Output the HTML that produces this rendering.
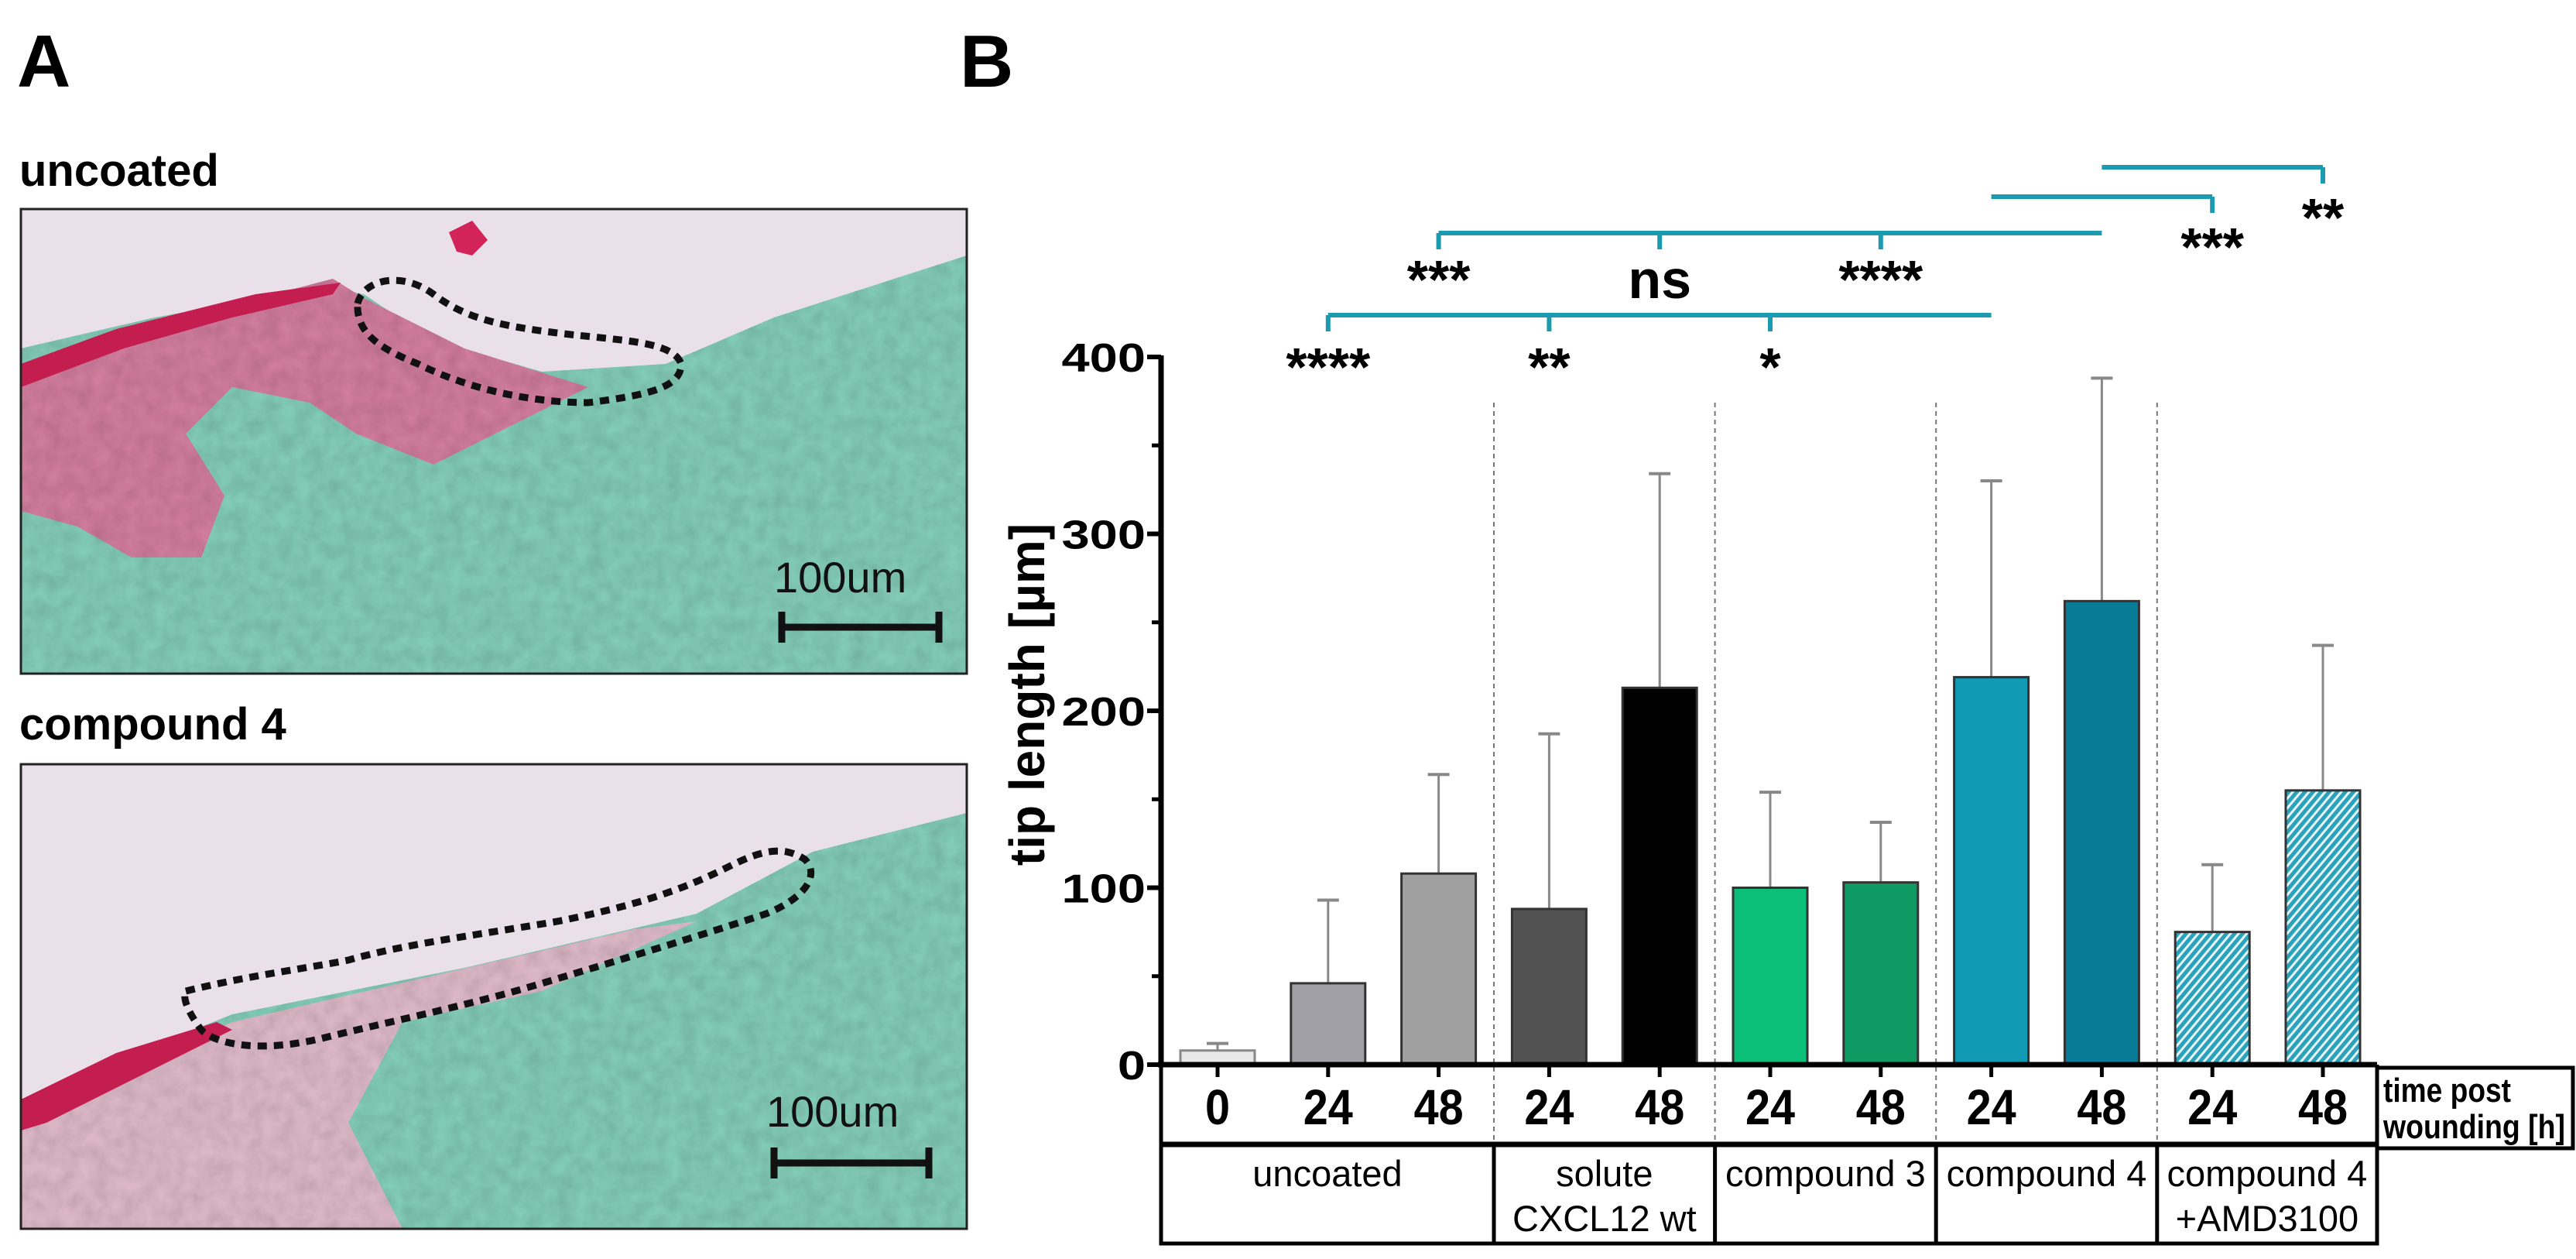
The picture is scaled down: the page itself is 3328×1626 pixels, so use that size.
<!DOCTYPE html>
<html><head><meta charset="utf-8"><style>
html,body{margin:0;padding:0;background:#fff;}
body{width:3328px;height:1626px;overflow:hidden;position:relative;font-family:"Liberation Sans",sans-serif;}
svg{position:absolute;left:0;top:0;}
</style></head><body>
<svg id="fig" width="3328" height="1626" viewBox="0 0 3328 1626" xmlns="http://www.w3.org/2000/svg">
<defs>
<pattern id="hatch" patternUnits="userSpaceOnUse" width="8" height="8" patternTransform="rotate(40)">
<rect width="8" height="8" fill="#e8f6f9"/><rect width="5" height="8" fill="#2ba2bb"/>
</pattern>
<filter id="tex" x="0" y="0" width="100%" height="100%">
<feTurbulence type="fractalNoise" baseFrequency="0.05" numOctaves="3" seed="4"/>
<feColorMatrix type="matrix" values="0 0 0 0 0  0 0 0 0 0  0 0 0 0 0  0 0 0 0.35 -0.08"/>
<feComposite in2="SourceGraphic" operator="in"/>
<feBlend in="SourceGraphic" mode="multiply"/>
</filter>
<clipPath id="c1"><rect x="27" y="270" width="1222" height="600"/></clipPath>
<clipPath id="c2"><rect x="27" y="987" width="1222" height="600"/></clipPath>
</defs>

<!-- Panel A -->
<text x="22" y="112" font-size="96" font-weight="bold" fill="#000">A</text>
<text x="25" y="240" font-size="58" font-weight="bold" fill="#000">uncoated</text>
<g clip-path="url(#c1)">
<rect x="27" y="270" width="1222" height="600" fill="#e9e0ea"/>
<polygon points="27,450 200,410 420,370 470,380 560,440 700,480 860,470 1000,410 1249,330 1249,870 27,870" fill="#82cbb6" filter="url(#tex)"/>
<polygon points="27,490 200,420 430,360 470,385 600,450 760,500 640,560 560,600 460,560 400,520 300,500 240,560 290,640 260,720 170,720 100,680 27,660" fill="#d07c9c" filter="url(#tex)"/>
<polygon points="27,470 150,425 330,380 440,365 430,380 300,410 160,450 27,500" fill="#c41d4f"/>
<polygon points="580,300 610,285 630,310 610,330 590,325" fill="#d3245a"/>
<path d="M462 392 C470 360 520 350 560 380 C600 410 640 420 720 430 C800 440 870 440 880 470 C880 500 840 510 760 520 C680 520 600 500 540 470 C490 450 460 430 462 392 Z" fill="none" stroke="#111" stroke-width="9" stroke-dasharray="12 9"/>
<text x="1000" y="765" font-size="56" fill="#111">100um</text>
<path d="M1010 810 H1213 M1010 790 V830 M1213 790 V830" stroke="#111" stroke-width="9" fill="none"/>
</g>
<rect x="27" y="270" width="1222" height="600" fill="none" stroke="#222" stroke-width="3"/>

<text x="25" y="955" font-size="58" font-weight="bold" fill="#000">compound 4</text>
<g clip-path="url(#c2)">
<rect x="27" y="987" width="1222" height="600" fill="#e9e0ea"/>
<polygon points="27,1420 300,1310 600,1250 900,1180 1050,1100 1249,1050 1249,1587 27,1587" fill="#82cbb6" filter="url(#tex)"/>
<polygon points="27,1430 300,1320 560,1260 820,1200 900,1190 700,1280 520,1320 450,1450 520,1587 27,1587" fill="#dcb8c6" filter="url(#tex)"/>
<polygon points="27,1420 150,1360 280,1320 300,1330 200,1380 60,1450 27,1460" fill="#c41d4f"/>
<path d="M240 1280 C320 1260 400 1250 450 1240 C520 1220 600 1210 720 1190 C820 1170 880 1150 940 1120 C980 1100 1010 1090 1040 1110 C1060 1130 1040 1160 990 1180 C900 1210 800 1240 700 1270 C600 1300 500 1320 420 1340 C340 1360 280 1350 260 1330 C245 1310 235 1290 240 1280 Z" fill="none" stroke="#111" stroke-width="9" stroke-dasharray="12 9"/>
<text x="990" y="1455" font-size="56" fill="#111">100um</text>
<path d="M1000 1502 H1200 M1000 1482 V1522 M1200 1482 V1522" stroke="#111" stroke-width="9" fill="none"/>
</g>
<rect x="27" y="987" width="1222" height="600" fill="none" stroke="#222" stroke-width="3"/>

<!-- Panel B -->
<text x="1240" y="112" font-size="96" font-weight="bold" fill="#000">B</text>
<g id="chart"></g>
</svg>
<script>
const categories = ["0","24","48","24","48","24","48","24","48","24","48"];
const means = [8, 46, 108, 88, 213, 100, 103, 219, 262, 75, 155];
const errTops = [12, 93, 164, 187, 334, 154, 137, 330, 388, 113, 237];
const fills = ["#e8e8e8","#a0a0a6","#a0a0a0","#525252","#000000","#0bbf78","#0f9a64","#119ab3","#087b96","url(#hatch)","url(#hatch)"];
const yTicks = [0, 100, 200, 300, 400];
const yMinorTicks = [50, 150, 250, 350];
const groupLabels = [["uncoated"],["solute","CXCL12 wt"],["compound 3"],["compound 4"],["compound 4","+AMD3100"]];
const groupSizes = [3, 2, 2, 2, 2];
const sigLabels = ["****","**","*","***","ns","****","***","**"];

const NS = "http://www.w3.org/2000/svg";
const chart = document.getElementById("chart");
const X0 = 1500, Y0 = 1375, Y400 = 461, STEP = 142.8, FIRST = 1573, BW = 96;
const yS = v => Y0 - (v / 400) * (Y0 - Y400);
const xS = i => FIRST + i * STEP;
function mk(tag, attrs, parent) {
  const e = document.createElementNS(NS, tag);
  for (const k in attrs) e.setAttribute(k, attrs[k]);
  (parent || chart).appendChild(e);
  return e;
}
function txt(x, y, s, size, weight, anchor, extra) {
  const t = mk("text", Object.assign({x: x, y: y, "font-size": size, "font-weight": weight, "text-anchor": anchor, fill: "#000"}, extra || {}));
  t.textContent = s;
  return t;
}
let acc = 0;
const bounds = [X0];
groupSizes.forEach((n, gi) => {
  acc += n;
  const bx = gi === groupSizes.length - 1 ? 3071 : (xS(acc - 1) + xS(acc)) / 2;
  bounds.push(bx);
  if (gi < groupSizes.length - 1) {
    const l = mk("line", {x1: bx, x2: bx, y1: 520, y2: 1478, stroke: "#777", "stroke-width": 2, "stroke-dasharray": "6 5"});
    
    
  }
});
means.forEach((v, i) => {
  const cx = xS(i);
  const e = mk("line", {x1: cx, x2: cx, y1: yS(errTops[i]), y2: yS(v), stroke: "#888", "stroke-width": 3});
  
  
  const c = mk("line", {x1: cx - 14, x2: cx + 14, y1: yS(errTops[i]), y2: yS(errTops[i]), stroke: "#888", "stroke-width": 4});
  
  
  const r = mk("rect", {x: cx - BW / 2, y: yS(v), width: BW, height: Y0 - yS(v), fill: fills[i], stroke: i === 0 ? "#888" : "#333", "stroke-width": 3});
  
  
});
const ax = mk("line", {x1: X0, x2: X0, y1: Y400 - 2, y2: Y0 + 2, stroke: "#000", "stroke-width": 7});


yTicks.forEach(v => {
  mk("line", {x1: X0 - 18, x2: X0, y1: yS(v), y2: yS(v), stroke: "#000", "stroke-width": 6});
  const t = txt(0, 0, String(v), 52, "bold", "end", {transform: "translate(" + (X0 - 20) + "," + (yS(v) + 19) + ") scale(1.25,1)"});
  
  
});
yMinorTicks.forEach(v => mk("line", {x1: X0 - 12, x2: X0, y1: yS(v), y2: yS(v), stroke: "#000", "stroke-width": 5}));
const yt = txt(0, 0, "tip length [µm]", 64, "bold", "middle", {transform: "translate(1349,897) rotate(-90)"});


const xa = mk("line", {x1: X0 - 4, x2: 3071, y1: Y0, y2: Y0, stroke: "#000", "stroke-width": 7});


mk("path", {d: "M" + X0 + " " + Y0 + " V1477 H3071 V" + Y0, fill: "none", stroke: "#000", "stroke-width": 5});
categories.forEach((c, i) => {
  mk("line", {x1: xS(i), x2: xS(i), y1: Y0, y2: Y0 + 16, stroke: "#000", "stroke-width": 5});
  const t = txt(0, 0, c, 64, "bold", "middle", {transform: "translate(" + xS(i) + ",1452) scale(0.9,1)"});
  
  
});
const tb = mk("rect", {x: 3071, y: 1379, width: 253, height: 104, fill: "#fff", stroke: "#000", "stroke-width": 5});


txt(3079, 1423, "time post", 44, "bold", "start", {"textLength": 165, "lengthAdjust": "spacingAndGlyphs"});
txt(3079, 1470, "wounding [h]", 44, "bold", "start", {"textLength": 235, "lengthAdjust": "spacingAndGlyphs"});
mk("rect", {x: X0, y: 1479, width: 3071 - X0, height: 127, fill: "none", stroke: "#000", "stroke-width": 5});
groupLabels.forEach((lines, gi) => {
  const a = bounds[gi], b = bounds[gi + 1];
  if (gi > 0) mk("line", {x1: a, x2: a, y1: 1479, y2: 1606, stroke: "#000", "stroke-width": 5});
  lines.forEach((s, li) => {
    const t = txt((a + b) / 2, 1532 + li * 58, s, 47, "normal", "middle");
    
    
  });
});
const TEAL = "#1b9ab0";
function bracket(fromI, toI, y, tickIs, labels, labelY) {
  const g = mk("g", {});
  
  
  mk("line", {x1: xS(fromI), x2: xS(toI), y1: y, y2: y, stroke: TEAL, "stroke-width": 6}, g);
  tickIs.forEach((ti, k) => {
    mk("line", {x1: xS(ti), x2: xS(ti), y1: y, y2: y + 21, stroke: TEAL, "stroke-width": 6}, g);
    const t = txt(xS(ti), labelY, labels[k], 70, "bold", "middle");
    
    
    g.appendChild(t);
  });
}
bracket(1, 7, 407, [1, 3, 5], sigLabels.slice(0, 3), 498);
bracket(2, 8, 301, [2, 4, 6], sigLabels.slice(3, 6), 385);
bracket(7, 9, 254, [9], [sigLabels[6]], 343);
bracket(8, 10, 216, [10], [sigLabels[7]], 305);
</script>
</body></html>
